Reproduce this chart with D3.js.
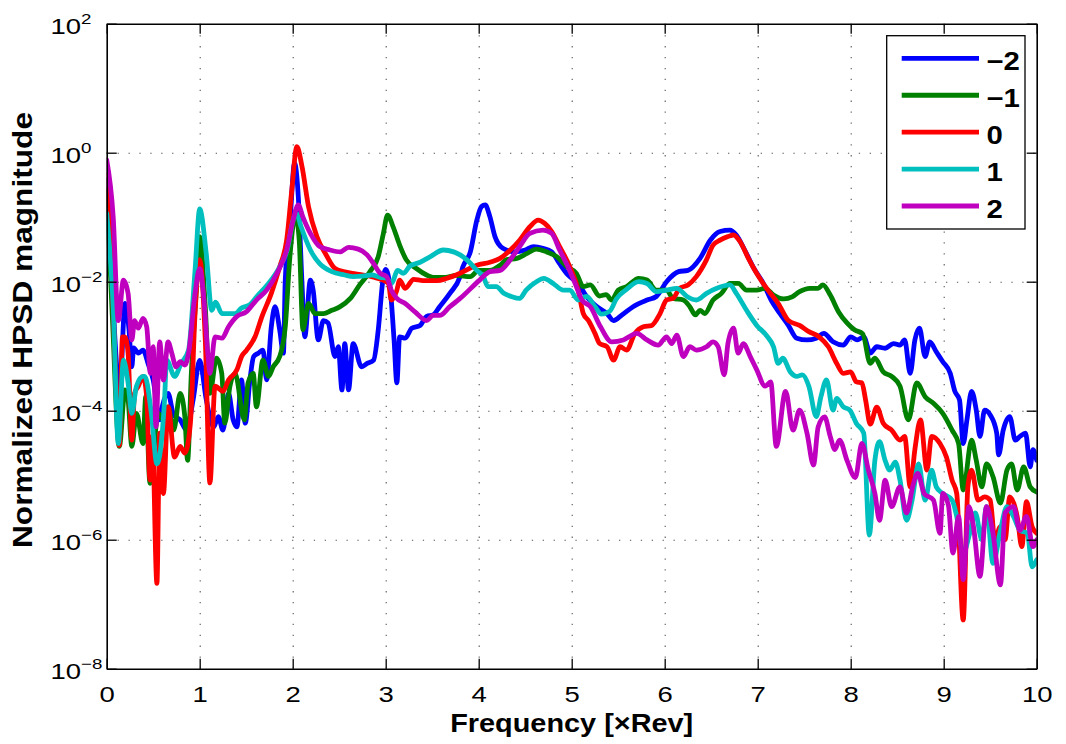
<!DOCTYPE html>
<html>
<head>
<meta charset="utf-8">
<script src="https://cdn.jsdelivr.net/npm/d3@7"></script>
<style>
  body { margin: 0; background: #fff; }
  text { font-family: "Liberation Sans", Arial, Helvetica, sans-serif; fill: #000; }
</style>
</head>
<body>
<svg id="chart" width="1066" height="744"></svg>
<script>
// Normalized HPSD magnitude per harmonic order, as [frequency (xRev), magnitude]
const seriesLabels = ["\u22122", "\u22121", "0", "1", "2"];
const seriesColors = ["#0000ff", "#008000", "#ff0000", "#00bfbf", "#bf00bf"];

const orderMinus2 = [[0,0.38],[0.05,0.02],[0.09,1.2e-3],[0.14,2e-4],[0.197,4.6e-3],[0.24,1.8e-3],[0.27,4.8e-4],[0.29,9.4e-4],[0.34,7.8e-4],[0.39,8.7e-4],[0.45,5.1e-4],[0.50,3.0e-4],[0.57,7.2e-5],[0.60,1.2e-4],[0.66,1.85e-4],[0.72,8.6e-5],[0.79,7.2e-5],[0.86,5.0e-5],[0.93,1.5e-4],[1.0,6.0e-4],[1.07,1.5e-4],[1.15,5.6e-5],[1.20,8.1e-5],[1.25,5.0e-5],[1.31,1.85e-4],[1.36,7.2e-5],[1.40,5.6e-5],[1.45,3.0e-4],[1.49,6.4e-5],[1.54,3.0e-4],[1.58,6.9e-4],[1.63,7.8e-4],[1.68,8.7e-4],[1.72,3.0e-4],[1.77,2.0e-3],[1.81,4.1e-3],[1.86,1.8e-3],[1.90,7.8e-4],[1.92,1.06e-2],[1.97,8.0e-2],[2.02,0.69],[2.06,0.21],[2.10,9.4e-3],[2.13,1.4e-3],[2.19,1.06e-2],[2.22,7.4e-3],[2.275,1.25e-3],[2.33,2.5e-3],[2.38,2.3e-3],[2.455,6.9e-4],[2.49,9.8e-4],[2.53,2.1e-4],[2.56,1.1e-3],[2.60,2.1e-4],[2.65,1.1e-3],[2.74,4.8e-4],[2.80,5.4e-4],[2.87,6.1e-4],[2.92,1.8e-3],[2.97,1.06e-2],[3.0,1.55e-2],[3.05,7.4e-3],[3.09,1.25e-3],[3.12,2.7e-4],[3.15,1.4e-3],[3.21,1.33e-3],[3.28,1.9e-3],[3.37,2.1e-3],[3.44,2.9e-3],[3.51,3.05e-3],[3.58,4.1e-3],[3.69,6.6e-3],[3.80,1.2e-2],[3.83,1.7e-2],[3.91,2.9e-2],[3.98,9.0e-2],[4.03,0.146],[4.07,0.155],[4.12,0.102],[4.175,5.0e-2],[4.26,3.3e-2],[4.39,2.9e-2],[4.50,3.1e-2],[4.59,3.5e-2],[4.69,3.3e-2],[4.785,2.9e-2],[4.87,1.9e-2],[4.96,1.27e-2],[5.07,9.4e-3],[5.16,5.9e-3],[5.27,4.1e-3],[5.38,3.2e-3],[5.45,2.5e-3],[5.54,3.05e-3],[5.66,4.1e-3],[5.81,5.2e-3],[5.91,5.9e-3],[6.02,1.0e-2],[6.15,1.43e-2],[6.25,1.5e-2],[6.38,2.3e-2],[6.49,4.4e-2],[6.595,6.0e-2],[6.70,6.3e-2],[6.77,5.3e-2],[6.86,3.1e-2],[6.95,1.7e-2],[7.06,9.4e-3],[7.15,5.0e-3],[7.24,3.2e-3],[7.33,2.1e-3],[7.42,1.33e-3],[7.53,1.25e-3],[7.63,1.33e-3],[7.71,1.58e-3],[7.81,1.17e-3],[7.92,1.04e-3],[8.0,1.4e-3],[8.07,1.25e-3],[8.14,1.4e-3],[8.21,7.8e-4],[8.28,9.8e-4],[8.37,9.3e-4],[8.46,1.1e-3],[8.53,1.04e-3],[8.58,1.25e-3],[8.64,3.8e-4],[8.69,1.25e-3],[8.74,1.9e-3],[8.80,6.9e-4],[8.85,1.17e-3],[8.92,8.2e-4],[8.99,5.75e-4],[9.07,3.8e-4],[9.12,2.0e-4],[9.17,1.47e-4],[9.21,3.1e-5],[9.25,7.2e-5],[9.30,2.0e-4],[9.35,1.02e-4],[9.39,4.0e-5],[9.44,1.02e-4],[9.50,8.6e-5],[9.57,4.5e-5],[9.59,2.06e-5],[9.64,5.0e-5],[9.71,8.1e-5],[9.77,3.5e-5],[9.82,4.0e-5],[9.88,4.5e-5],[9.93,1.35e-5],[9.96,2.5e-5],[10,1.7e-5]];

const orderMinus1 = [[0,0.26],[0.06,3e-3],[0.136,2.8e-5],[0.197,2.1e-4],[0.23,1.47e-4],[0.27,2.8e-5],[0.32,9.1e-5],[0.39,3.1e-5],[0.42,1.65e-4],[0.465,7.5e-6],[0.555,9.1e-5],[0.61,7.2e-5],[0.66,1.15e-4],[0.72,5.0e-5],[0.79,1.85e-4],[0.84,8.1e-5],[0.87,1.7e-5],[0.91,3.8e-4],[0.97,1.06e-2],[1.0,5.0e-2],[1.06,4.1e-3],[1.11,1.85e-4],[1.18,6.5e-4],[1.237,3.8e-4],[1.27,6.4e-5],[1.325,2.4e-4],[1.38,3.8e-4],[1.48,7.2e-5],[1.52,2.7e-4],[1.575,3.8e-4],[1.61,1.15e-4],[1.68,6.1e-4],[1.74,3.4e-4],[1.79,4.8e-4],[1.86,6.9e-4],[1.92,2.0e-3],[1.97,2.45e-2],[2.03,0.108],[2.07,4.4e-2],[2.11,1.8e-3],[2.17,4.6e-3],[2.24,3.2e-3],[2.33,3.2e-3],[2.42,3.6e-3],[2.51,4.1e-3],[2.62,5.5e-3],[2.72,8.9e-3],[2.83,1.43e-2],[2.92,2.45e-2],[2.975,5.6e-2],[3.02,0.108],[3.08,7.1e-2],[3.15,3.7e-2],[3.22,2.2e-2],[3.33,1.6e-2],[3.44,1.27e-2],[3.51,1.17e-2],[3.64,1.17e-2],[3.76,1.25e-2],[3.91,1.2e-2],[4.0,1.5e-2],[4.12,1.5e-2],[4.23,1.8e-2],[4.30,2.2e-2],[4.41,2.3e-2],[4.52,2.75e-2],[4.62,3.2e-2],[4.73,2.9e-2],[4.84,2.45e-2],[4.95,1.7e-2],[5.05,1.35e-2],[5.125,8.4e-3],[5.20,8.9e-3],[5.30,6.0e-3],[5.37,6.3e-3],[5.43,5.2e-3],[5.50,7.4e-3],[5.59,8.4e-3],[5.72,1.13e-2],[5.81,1.06e-2],[5.91,7.4e-3],[6.02,7.4e-3],[6.09,5.5e-3],[6.20,5.2e-3],[6.27,4.1e-3],[6.33,3.05e-3],[6.38,3.6e-3],[6.43,3.2e-3],[6.52,5.2e-3],[6.61,6.6e-3],[6.70,9.4e-3],[6.79,9.4e-3],[6.88,7.4e-3],[6.99,7.4e-3],[7.08,7.9e-3],[7.17,6.2e-3],[7.28,5.4e-3],[7.37,5.8e-3],[7.45,7.0e-3],[7.56,7.9e-3],[7.65,7.9e-3],[7.70,8.9e-3],[7.78,6.2e-3],[7.87,3.4e-3],[7.96,2.3e-3],[8.04,1.8e-3],[8.13,1.55e-3],[8.21,5.4e-4],[8.26,6.5e-4],[8.35,4.0e-4],[8.44,3.4e-4],[8.53,2.4e-4],[8.62,7.2e-5],[8.71,2.7e-4],[8.80,1.65e-4],[8.89,1.3e-4],[8.99,9.1e-5],[9.09,5.0e-5],[9.16,3.1e-5],[9.21,5.9e-6],[9.30,3.5e-5],[9.35,1.7e-5],[9.41,6.6e-6],[9.46,1.5e-5],[9.53,9.5e-6],[9.61,3.7e-6],[9.68,1.2e-5],[9.73,1.5e-5],[9.79,5.9e-6],[9.86,1.35e-5],[9.93,6.6e-6],[10,5.5e-6]];

const order0 = [[0,0.45],[0.04,5e-2],[0.08,1.5e-3],[0.135,2.9e-5],[0.17,1.4e-3],[0.195,1.4e-3],[0.23,7.8e-4],[0.27,3.5e-5],[0.30,1.85e-4],[0.34,2.4e-4],[0.39,3.4e-4],[0.43,1.65e-4],[0.465,8.4e-6],[0.49,4.0e-5],[0.54,2.1e-7],[0.57,4.5e-5],[0.61,5.2e-6],[0.66,1.15e-4],[0.73,1.9e-5],[0.79,2.8e-5],[0.84,2.2e-5],[0.90,6.4e-5],[0.95,3.2e-3],[1.0,2.2e-2],[1.06,1.25e-3],[1.11,7.6e-6],[1.165,2.4e-4],[1.25,2.0e-4],[1.31,3.0e-4],[1.40,4.3e-4],[1.45,6.9e-4],[1.505,8.7e-4],[1.595,1.4e-3],[1.67,2.9e-3],[1.77,6.6e-3],[1.86,1.7e-2],[1.935,4.4e-2],[1.99,0.26],[2.045,1.24],[2.10,0.61],[2.17,0.146],[2.26,5.0e-2],[2.36,2.6e-2],[2.455,1.6e-2],[2.545,1.43e-2],[2.64,1.35e-2],[2.76,1.27e-2],[2.87,1.17e-2],[2.97,1.06e-2],[3.03,9.4e-3],[3.06,5.2e-3],[3.12,7.4e-3],[3.15,1.06e-2],[3.21,7.9e-3],[3.30,1.09e-2],[3.40,1.04e-2],[3.55,1.04e-2],[3.66,1.13e-2],[3.80,1.35e-2],[3.98,1.8e-2],[4.12,2.0e-2],[4.23,2.3e-2],[4.34,3.1e-2],[4.44,4.4e-2],[4.55,7.1e-2],[4.64,9.0e-2],[4.71,8.0e-2],[4.785,6.0e-2],[4.87,3.5e-2],[4.98,1.7e-2],[5.07,7.4e-3],[5.125,3.2e-3],[5.18,2.5e-3],[5.25,1.58e-3],[5.30,1.1e-3],[5.38,9.8e-4],[5.45,6.1e-4],[5.52,9.8e-4],[5.59,8.7e-4],[5.68,1.58e-3],[5.77,2.0e-3],[5.86,2.1e-3],[5.95,3.2e-3],[6.02,5.2e-3],[6.09,5.5e-3],[6.16,7.9e-3],[6.25,8.9e-3],[6.34,1.2e-2],[6.45,2.2e-2],[6.52,3.7e-2],[6.595,4.4e-2],[6.68,5.0e-2],[6.74,5.3e-2],[6.81,4.2e-2],[6.90,2.3e-2],[7.01,1.2e-2],[7.11,7.4e-3],[7.22,4.6e-3],[7.33,2.5e-3],[7.45,2.1e-3],[7.55,1.68e-3],[7.66,1.4e-3],[7.76,9.8e-4],[7.85,5.4e-4],[7.92,3.8e-4],[8.0,4.0e-4],[8.06,2.8e-4],[8.12,2.7e-4],[8.16,1.47e-4],[8.21,6.2e-5],[8.28,1.14e-4],[8.35,6.4e-5],[8.44,5.0e-5],[8.53,3.5e-5],[8.58,4.0e-5],[8.64,6.6e-6],[8.69,2.5e-5],[8.75,7.2e-5],[8.82,1.2e-5],[8.87,4.0e-5],[8.96,3.1e-5],[9.03,1.9e-5],[9.09,8.4e-6],[9.14,5.2e-6],[9.21,5.7e-8],[9.26,6.6e-6],[9.30,1.2e-5],[9.37,4.1e-6],[9.44,4.6e-6],[9.50,4.1e-6],[9.55,1.0e-6],[9.61,1.6e-6],[9.66,1.0e-6],[9.71,4.6e-6],[9.79,2.3e-6],[9.84,7.8e-7],[9.89,3.9e-6],[9.95,1.6e-6],[10,1.26e-6]];

const order1 = [[0,0.115],[0.07,4.1e-3],[0.125,3.1e-5],[0.18,6.1e-4],[0.23,2.7e-4],[0.27,9.1e-5],[0.32,2.4e-4],[0.39,3.4e-4],[0.41,3.4e-4],[0.48,9.1e-5],[0.54,1.5e-5],[0.62,1.3e-4],[0.645,6.1e-4],[0.73,3.4e-4],[0.80,5.4e-4],[0.88,8.7e-4],[0.95,1.5e-2],[1.0,0.134],[1.07,2.75e-2],[1.13,3.6e-3],[1.17,4.8e-3],[1.24,3.2e-3],[1.38,3.2e-3],[1.45,3.9e-3],[1.54,4.4e-3],[1.61,5.8e-3],[1.74,9.4e-3],[1.85,1.6e-2],[1.94,3.1e-2],[2.01,9.6e-2],[2.04,0.115],[2.09,7.1e-2],[2.19,3.1e-2],[2.29,1.9e-2],[2.42,1.43e-2],[2.56,1.27e-2],[2.65,1.2e-2],[2.75,1.22e-2],[2.85,1.27e-2],[2.94,1.17e-2],[3.01,1.13e-2],[3.06,9.4e-3],[3.13,1.5e-2],[3.19,1.35e-2],[3.26,1.75e-2],[3.37,2.0e-2],[3.48,2.45e-2],[3.62,3.1e-2],[3.73,2.9e-2],[3.80,2.6e-2],[3.87,2.2e-2],[3.98,1.5e-2],[4.05,1.2e-2],[4.10,8.4e-3],[4.19,8.4e-3],[4.27,6.6e-3],[4.35,5.9e-3],[4.44,5.5e-3],[4.51,7.4e-3],[4.62,1.0e-2],[4.70,1.13e-2],[4.80,9.4e-3],[4.91,7.4e-3],[4.98,7.4e-3],[5.07,5.2e-3],[5.16,5.9e-3],[5.25,4.1e-3],[5.32,3.15e-3],[5.41,3.5e-3],[5.48,5.4e-3],[5.59,7.6e-3],[5.72,1.0e-2],[5.81,9.4e-3],[5.91,7.0e-3],[6.02,7.4e-3],[6.13,7.9e-3],[6.24,5.9e-3],[6.34,5.2e-3],[6.45,6.6e-3],[6.56,7.9e-3],[6.70,8.9e-3],[6.77,6.6e-3],[6.88,3.6e-3],[6.99,2.1e-3],[7.09,1.49e-3],[7.17,9.8e-4],[7.22,5.4e-4],[7.27,6.5e-4],[7.35,4.0e-4],[7.42,3.4e-4],[7.48,3.6e-4],[7.55,2.4e-4],[7.63,8.1e-5],[7.68,1.65e-4],[7.74,3.0e-4],[7.81,1.02e-4],[7.85,1.55e-4],[7.92,1.15e-4],[7.99,1.02e-4],[8.06,6.4e-5],[8.14,4.5e-5],[8.20,1.18e-6],[8.26,1.7e-5],[8.31,3.3e-5],[8.37,1.7e-5],[8.42,1.2e-5],[8.48,1.6e-5],[8.53,8.4e-6],[8.60,2.0e-6],[8.66,4.1e-6],[8.73,1.5e-5],[8.80,4.1e-6],[8.87,1.2e-5],[8.92,6.6e-6],[8.99,5.2e-6],[9.09,4.1e-6],[9.14,2.3e-6],[9.21,6.2e-7],[9.28,1.26e-6],[9.34,2.6e-6],[9.41,1.0e-6],[9.46,3.25e-6],[9.53,4.3e-7],[9.61,1.4e-6],[9.68,3.25e-6],[9.75,2.3e-6],[9.82,1.4e-6],[9.90,1.26e-6],[9.95,3.8e-7],[10,4.9e-7]];

const order2 = [[0,0.77],[0.07,0.10],[0.125,2.5e-3],[0.18,1.06e-2],[0.23,6.6e-3],[0.27,1.25e-3],[0.30,2.5e-3],[0.34,1.9e-3],[0.39,2.7e-3],[0.43,2.0e-3],[0.47,3.8e-4],[0.50,9.8e-4],[0.53,5.6e-5],[0.57,1.17e-3],[0.61,3.0e-4],[0.66,1.17e-3],[0.70,7.8e-4],[0.745,4.8e-4],[0.79,5.75e-4],[0.84,5.1e-4],[0.88,7.8e-4],[0.95,6.6e-3],[1.0,1.6e-2],[1.04,6.6e-3],[1.09,6.9e-4],[1.11,3.8e-4],[1.165,1.4e-3],[1.24,1.33e-3],[1.31,2.0e-3],[1.40,2.9e-3],[1.50,3.4e-3],[1.61,5.2e-3],[1.72,7.4e-3],[1.83,1.35e-2],[1.935,3.1e-2],[2.005,9.0e-2],[2.06,0.155],[2.11,0.10],[2.19,5.6e-2],[2.29,3.5e-2],[2.40,3.1e-2],[2.51,2.9e-2],[2.60,3.4e-2],[2.705,3.2e-2],[2.80,2.6e-2],[2.87,1.9e-2],[2.94,1.35e-2],[3.01,1.2e-2],[3.06,7.4e-3],[3.12,5.5e-3],[3.21,4.6e-3],[3.315,3.4e-3],[3.44,2.5e-3],[3.51,3.0e-3],[3.58,3.0e-3],[3.69,4.1e-3],[3.80,5.5e-3],[4.01,1.06e-2],[4.12,1.43e-2],[4.23,1.5e-2],[4.34,2.2e-2],[4.44,3.5e-2],[4.55,5.6e-2],[4.69,6.3e-2],[4.785,5.6e-2],[4.87,3.1e-2],[4.96,1.7e-2],[5.05,8.4e-3],[5.11,5.2e-3],[5.20,4.1e-3],[5.31,2.0e-3],[5.43,1.17e-3],[5.555,1.25e-3],[5.70,1.58e-3],[5.81,1.25e-3],[5.93,1.04e-3],[6.02,1.4e-3],[6.075,1.1e-3],[6.13,1.49e-3],[6.20,6.9e-4],[6.27,9.8e-4],[6.34,8.7e-4],[6.45,9.8e-4],[6.52,1.17e-3],[6.575,9.8e-4],[6.64,3.6e-4],[6.68,1.1e-3],[6.74,1.9e-3],[6.79,7.8e-4],[6.845,1.1e-3],[6.92,6.9e-4],[6.99,4.3e-4],[7.08,2.4e-4],[7.14,2.8e-4],[7.20,2.8e-5],[7.30,2.0e-4],[7.38,5.0e-5],[7.45,1.02e-4],[7.53,4.5e-5],[7.60,1.44e-5],[7.65,5.6e-5],[7.72,8.0e-5],[7.78,4.0e-5],[7.83,2.5e-5],[7.88,3.5e-5],[7.96,1.7e-5],[8.05,9.2e-6],[8.12,3.1e-5],[8.19,1.2e-5],[8.26,5.2e-6],[8.31,2.0e-6],[8.37,8.4e-6],[8.44,3.25e-6],[8.53,6.6e-6],[8.60,2.6e-6],[8.67,7.0e-6],[8.72,1.07e-5],[8.79,5.2e-6],[8.89,4.1e-6],[8.96,1.26e-6],[8.99,5.2e-6],[9.05,3.45e-6],[9.10,6.2e-7],[9.16,2.3e-6],[9.21,2.4e-7],[9.27,3.25e-6],[9.32,1.6e-6],[9.39,2.7e-7],[9.46,3.25e-6],[9.53,1.26e-6],[9.61,2.0e-7],[9.66,2.6e-6],[9.75,3.25e-6],[9.82,1.4e-6],[9.89,2.3e-6],[9.96,7.8e-7],[10,1.0e-6]];

const xTickValues = [0,1,2,3,4,5,6,7,8,9,10];
const yTickExponents = [2,0,-2,-4,-6,-8];
const xLabel = "Frequency [\u00d7Rev]";
const yLabel = "Normalized HPSD magnitude";

const series = [orderMinus2, orderMinus1, order0, order1, order2];

// ---- layout ----
const plot = { left: 106.7, right: 1036.7, top: 23.7, bottom: 668.7 };
const svg = d3.select("#chart");

const x = d3.scaleLinear().domain([0, 10]).range([plot.left, plot.right]);
const y = d3.scaleLog().domain([1e-8, 1e2]).range([plot.bottom, plot.top]);
const yTickValues = yTickExponents.map(e => Math.pow(10, e));

svg.append("rect").attr("x", 0).attr("y", 0).attr("width", 1066).attr("height", 744).attr("fill", "#fff");

// dotted grid
const grid = svg.append("g").attr("class", "grid");
grid.append("g")
  .attr("transform", `translate(0,${plot.bottom})`)
  .call(d3.axisBottom(x).tickValues(xTickValues.slice(1, -1))
    .tickSize(-(plot.bottom - plot.top)).tickFormat("").tickSizeOuter(0))
  .call(g => g.select(".domain").remove());
grid.append("g")
  .attr("transform", `translate(${plot.left},0)`)
  .call(d3.axisLeft(y).tickValues(yTickValues.slice(1, -1))
    .tickSize(-(plot.right - plot.left)).tickFormat("").tickSizeOuter(0))
  .call(g => g.select(".domain").remove());
grid.selectAll("line")
  .attr("stroke", "#555").attr("stroke-width", 1.1)
  .attr("stroke-dasharray", "1.3,9.6");

// curves
const line = d3.line()
  .x(d => x(d[0]))
  .y(d => y(d[1]))
  .curve(d3.curveMonotoneX);

svg.append("defs").append("clipPath").attr("id", "plotClip")
  .append("rect").attr("x", plot.left).attr("y", plot.top)
  .attr("width", plot.right - plot.left).attr("height", plot.bottom - plot.top);

svg.append("g").attr("clip-path", "url(#plotClip)")
  .selectAll("path.curve")
  .data(series)
  .join("path")
  .attr("class", "curve")
  .attr("d", line)
  .attr("fill", "none")
  .attr("stroke", (d, i) => seriesColors[i])
  .attr("stroke-width", 4.8)
  .attr("stroke-linejoin", "round")
  .attr("stroke-linecap", "round");

// axes with inward ticks on all four sides
const axisStyle = g => {
  g.selectAll("path.domain").attr("stroke", "#000").attr("stroke-width", 1.6);
  g.selectAll(".tick line").attr("stroke", "#000").attr("stroke-width", 1.3);
};
svg.append("g")
  .attr("transform", `translate(0,${plot.bottom})`)
  .call(d3.axisBottom(x).tickValues(xTickValues).tickSize(-10).tickSizeOuter(0)
    .tickPadding(17.5).tickFormat(d3.format("d")))
  .call(axisStyle)
  .call(g => g.selectAll(".tick text")
    .attr("font-size", 22).attr("fill", "#000")
    .attr("transform", "scale(1.25,1)"));
svg.append("g")
  .attr("transform", `translate(0,${plot.top})`)
  .call(d3.axisTop(x).tickValues(xTickValues).tickSize(-10).tickSizeOuter(0).tickFormat(""))
  .call(axisStyle);
svg.append("g")
  .attr("transform", `translate(${plot.left},0)`)
  .call(d3.axisLeft(y).tickValues(yTickValues).tickSize(-10).tickSizeOuter(0).tickFormat(""))
  .call(axisStyle);
svg.append("g")
  .attr("transform", `translate(${plot.right},0)`)
  .call(d3.axisRight(y).tickValues(yTickValues).tickSize(-10).tickSizeOuter(0).tickFormat(""))
  .call(axisStyle);

// y tick labels as 10^n
const yLabels = svg.append("g").attr("class", "ytick-labels");
yTickExponents.forEach(e => {
  const g = yLabels.append("g")
    .attr("transform", `translate(50.5,${y(Math.pow(10, e)) + 10.6}) scale(1.25,1)`);
  const t = g.append("text").attr("font-size", 22);
  t.append("tspan").text("10");
  t.append("tspan").attr("font-size", 15).attr("dy", -10.5)
    .text(e < 0 ? "\u2212" + Math.abs(e) : String(e));
});

// axis titles
svg.append("text")
  .attr("x", x(5)).attr("y", 731.5)
  .attr("text-anchor", "middle")
  .attr("font-size", 26).attr("font-weight", "bold")
  .attr("textLength", 243).attr("lengthAdjust", "spacingAndGlyphs")
  .text(xLabel);
svg.append("text")
  .attr("transform", `translate(32,${(112 + 548) / 2}) rotate(-90)`)
  .attr("text-anchor", "middle")
  .attr("font-size", 28).attr("font-weight", "bold")
  .attr("textLength", 436).attr("lengthAdjust", "spacingAndGlyphs")
  .text(yLabel);

// legend
const legend = svg.append("g").attr("class", "legend");
legend.append("rect")
  .attr("x", 886.7).attr("y", 35.7).attr("width", 1025 - 886.7).attr("height", 229 - 35.7)
  .attr("fill", "#fff").attr("stroke", "#000").attr("stroke-width", 1.3);
const rowY = d3.scalePoint().domain(seriesLabels).range([58.3, 206]);
seriesLabels.forEach((lab, i) => {
  legend.append("line")
    .attr("x1", 901.7).attr("x2", 979)
    .attr("y1", rowY(lab)).attr("y2", rowY(lab))
    .attr("stroke", seriesColors[i]).attr("stroke-width", 4.8);
  legend.append("g")
    .attr("transform", `translate(986.5,${rowY(lab) + 11.7}) scale(1.15,1)`)
    .append("text")
    .attr("font-size", 25.5).attr("font-weight", "bold")
    .text(lab);
});
</script>
</body>
</html>
